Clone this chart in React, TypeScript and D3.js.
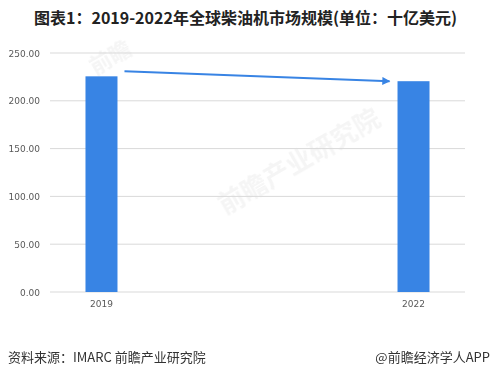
import React from "react";
import * as d3 from "d3";

const categories = ["2019", "2022"];
const values = [225.6, 220.5];
const yTicks = [0, 50, 100, 150, 200, 250];
const title = "图表1：2019-2022年全球柴油机市场规模(单位：十亿美元)";
const source = "资料来源：IMARC 前瞻产业研究院";
const credit = "@前瞻经济学人APP";

export default function App() {
  const W = 491, H = 378;
  const x0 = 50, x1 = 465, yTop = 53, yBot = 292;
  const x = d3.scalePoint<string>().domain(categories).range([x0, x1]).padding(0.165);
  const y = d3.scaleLinear().domain([0, 250]).range([yBot, yTop]);
  const bw = 32;
  const blue = "#3884e4";
  const font = "'Noto Sans CJK SC', 'Noto Sans', sans-serif";
  const ax = (x(categories[0]) as number) + bw / 2 + 7;
  const bx = (x(categories[1]) as number) - bw / 2 - 8;
  const ay = y(values[0]) - 5;
  const by = y(values[1]);
  return (
    <svg width={W} height={H} style={{ position: "absolute", left: 0, top: 0, background: "#fff" }}>
      <defs>
        <marker id="ah" viewBox="0 0 10 10" refX="9" refY="5" markerWidth="5" markerHeight="4" orient="auto">
          <path d="M0,0 L10,5 L0,10 z" fill={blue} />
        </marker>
      </defs>
      <rect width={W} height={H} fill="#fff" />
      <text x={W / 2} y={24} textAnchor="middle" fontFamily={font} fontWeight="bold" fontSize={16} fill="#222">{title}</text>
      <g opacity={0.05} fontFamily={font} fontWeight="bold" fill="#333">
        <text x={95} y={75} fontSize={22} transform="rotate(-30 95 75)">前瞻</text>
        <text x={225} y={215} fontSize={26} transform="rotate(-30 225 215)">前瞻产业研究院</text>
      </g>
      {yTicks.map((t) => (
        <g key={t}>
          <line x1={x0} x2={x1} y1={y(t)} y2={y(t)} stroke="#d9d9d9" strokeWidth={1} />
          <text x={40} y={y(t) + 3.5} textAnchor="end" fontFamily="'DejaVu Sans', sans-serif" fontSize={9} fill="#595959">
            {t.toFixed(2)}
          </text>
        </g>
      ))}
      {categories.map((c, i) => (
        <g key={c}>
          <rect x={(x(c) as number) - bw / 2} y={y(values[i])} width={bw} height={yBot - y(values[i])} fill={blue} />
          <text x={x(c) as number} y={307} textAnchor="middle" fontFamily="'DejaVu Sans', sans-serif" fontSize={9} fill="#595959">{c}</text>
        </g>
      ))}
      <line x1={ax} y1={ay} x2={bx} y2={by} stroke={blue} strokeWidth={2} markerEnd="url(#ah)" />
      <text x={8} y={362} fontFamily={font} fontSize={13} fill="#333">{source}</text>
      <text x={490} y={362} textAnchor="end" fontFamily={font} fontSize={13} fill="#333">{credit}</text>
    </svg>
  );
}
